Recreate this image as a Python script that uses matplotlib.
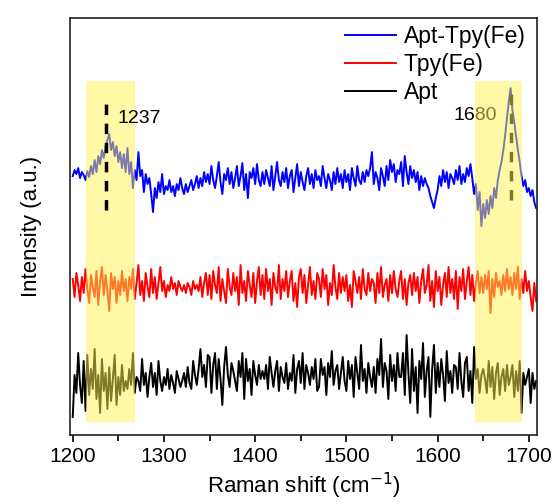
import numpy as np
import matplotlib
matplotlib.use("Agg")
import matplotlib.pyplot as plt
from matplotlib.ticker import MultipleLocator

plt.rcParams['font.family'] = ['Liberation Sans', 'DejaVu Sans']

# Raman shift axis, 2 cm-1 step
shift = np.arange(1200, 1710, 2)

# spectra (a.u., relative to each trace's own baseline)
apt_tpy_fe = [4, 10, 6, 12, 2, 8, 5, 0, 9, 3, 14, 6, 20, 8, 24,
              16, 30, 22, 34, 40, 46, 30, 38, 24, 34, 18, 28, 12, 26, 8,
              32, 6, 18, -8, 10, 0, 28, 4, 10, -12, 6, -4, 2, -14, -32,
              -8, -18, -2, -12, 6, -14, -6, -10, 0, -12, -6, -16, -4, -10, 2,
              -8, -14, -4, -12, -6, 0, -10, -4, 4, -8, 2, -6, 8, -2, 6,
              -4, 14, 0, -8, 4, 18, -2, -14, 6, 0, 12, -4, 8, -8, 2,
              14, -6, 4, 17, -10, 6, -18, 8, 2, 12, -4, 16, 0, -6, 8,
              -4, 10, 2, -6, 14, -10, 4, 18, 0, -6, 8, -2, 12, -8, 4,
              10, -12, 2, 16, -6, 8, -2, -10, 4, 12, -4, 6, -8, 10, 0,
              4, -6, 14, 2, -8, 6, 0, -10, 8, -4, 12, -2, 6, -8, 10,
              -2, 6, -10, 12, 2, -6, 14, 0, -4, 8, -2, 10, 4, 12, 28,
              -4, 8, 2, -10, 12, 4, -6, 14, 0, 20, 8, 16, -2, 10, 6,
              18, -6, 24, 8, -4, 14, 2, 10, -2, 8, -10, 4, -6, 2, -4,
              -8, -16, -22, -28, -18, -10, 4, -6, 10, -2, 8, -8, 6, 2, -4,
              10, 0, 14, -4, 6, -2, 12, 4, 16, 2, -14, -4, -30, -12, -46,
              -24, -38, -20, -34, -16, -28, -8, -18, 0, 10, 18, 30, 44, 62, 78,
              92, 70, 58, 44, 30, 18, 4, -6, 0, -12, -8, -16, -10, -22, -28]

tpy_fe = [8, -10, 14, 2, -14, 10, -6, 18, -2, -16, 12, 0, -10, 16, -18,
          6, 20, -8, 12, -4, -24, 14, -2, 10, -16, 6, -8, 16, -4, 8,
          -14, 10, -2, 18, -12, 4, 22, -8, 6, -14, 14, 0, -10, 18, -6,
          10, -12, 4, 20, -4, 6, -10, 2, -4, 10, -2, 4, -8, 6, 0,
          -4, 2, -6, 4, 0, -8, 6, -2, 2, -4, 10, -10, 4, 14, -8,
          12, -12, 16, 2, -6, 20, -14, 8, -4, -16, 18, 0, -8, 14, -4,
          10, -18, 22, -6, 6, -14, 16, 2, -10, 14, -16, 6, 20, -8, 12,
          -12, 18, -4, 8, -18, 14, 0, -6, 22, -12, 8, -4, 16, -10, 6,
          16, -14, 4, -20, 10, 18, -6, 12, -16, 2, 20, -8, 6, -12, 14,
          8, -10, 18, -2, 12, -18, 4, -8, 22, 0, -12, 14, -6, 10, -4,
          12, -14, 2, -20, 16, 6, -6, 10, -12, 18, -2, -8, 14, -4, 8,
          4, -16, 14, -6, 20, -10, 2, 8, -14, 12, -6, 16, -2, -10, 6,
          16, -12, 8, -18, 4, 12, -8, 14, -4, 10, -16, 6, 18, -6, 2,
          22, -14, 6, -20, 16, -4, 10, -18, 2, 14, -10, 20, -6, 8, -12,
          16, -22, 10, -4, 18, -12, 6, 20, -8, 12, -14, 4, 16, -6, 10,
          -6, 12, -2, 16, -26, 8, -10, 14, 0, 6, -8, 12, -4, 18, -2,
          10, -8, 14, -2, 20, -12, 8, -6, 16, -4, 6, -10, -24, 4, -14]

apt = [-34, 8, -10, 30, -2, -20, 22, -28, 28, -12, 14, -6, 34, -16, 8,
       -30, 24, -8, 10, -26, 16, -18, 4, 28, -22, 6, -12, 18, -8, 2,
       -6, 14, -2, 30, -10, 6, 2, -8, 24, -2, 10, -14, 6, 20, -4,
       10, -12, 22, 2, -8, 6, -2, 14, -6, 8, 0, -10, 12, 4, -4,
       2, 10, -4, 16, 0, -6, 22, 8, -2, 14, 34, 6, 18, -4, 28,
       26, -10, 18, 30, -6, 24, 4, -22, 16, 36, 8, -4, 20, 12, 2,
       -8, 22, 6, 30, -16, 24, 2, 14, -12, 22, 8, -2, 18, 4, 12,
       4, 18, -6, 26, 10, -4, 12, 22, -8, 16, 6, 0, 20, -6, 10,
       2, 28, -10, 14, 22, 0, 30, -6, 18, 10, -2, 16, 4, 24, -8,
       -4, 24, 8, 16, -12, 20, 6, 32, -2, 12, 18, -6, 10, 26, 2,
       -8, 22, 4, 18, -14, 26, 10, -6, 38, 2, 14, -10, 20, 6, -4,
       16, -10, 24, 8, 44, -4, 20, 12, -16, 28, 2, 18, -8, 30, 6,
       6, 30, -12, 48, 10, -20, 34, -8, 16, -30, 22, 4, 40, -14, 12,
       26, -34, 14, 38, -10, 20, -4, 24, 8, -18, 32, 0, 12, -10, 18,
       16, -6, 30, 2, -14, 20, 26, -8, 12, -20, 36, 4, 14, -10, 8,
       14, 4, -10, 22, -4, 16, -16, 10, 20, -12, 6, 14, -8, 18, -2,
       6, 18, -14, 12, -8, 22, -30, 10, -2, 6, 14, -20, 10, -6, 2]

labels = ['Apt-Tpy(Fe)', 'Tpy(Fe)', 'Apt']
offsets = [255, 148, 52]     # stacking offsets
colors = ['#0000ff', '#ff0000', '#000000']
peaks = [1237, 1680]
bands = [(1215, 1268), (1641, 1692)]

fig = plt.figure(figsize=(5.6, 5.04), dpi=100)
ax = fig.add_axes([0.125, 0.137, 0.834, 0.827])

for y, off, c, lab in zip([apt_tpy_fe, tpy_fe, apt], offsets, colors, labels):
    ax.plot(shift, np.array(y) + off, color=c, lw=1.4, label=lab, zorder=2)

# highlighted regions (drawn over the traces)
for b in bands:
    ax.axvspan(*b, ymin=0.03, ymax=0.85, color='#fff550', alpha=0.5, lw=0, zorder=3)

# peak markers
ax.vlines(peaks[0], 225, 335, colors='k', linestyles=(0, (3, 2.5)), lw=2.5, zorder=4)
ax.text(peaks[0] + 12, 317, str(peaks[0]), fontsize=14, va='center', zorder=4)
ax.vlines(peaks[1], 235, 347, colors='k', linestyles=(0, (3, 2.5)), lw=2.5, zorder=2.5)
ax.text(peaks[1] - 63, 320, str(peaks[1]), fontsize=14, va='center', zorder=2.5)

ax.set_xlim(1197, 1709)
ax.set_ylim(0, 417)
ax.xaxis.set_major_locator(MultipleLocator(100))
ax.xaxis.set_minor_locator(MultipleLocator(50))
ax.tick_params(axis='x', which='major', direction='out', length=5, width=1.2, labelsize=15, pad=4)
ax.tick_params(axis='x', which='minor', direction='out', length=4, width=1.2)
ax.set_yticks([])
for s in ax.spines.values():
    s.set_linewidth(1.2)
    s.set_color('#222222')

ax.set_xlabel('Raman shift (cm$^{-1}$)', fontsize=16, labelpad=3)
ax.set_ylabel('Intensity (a.u.)', fontsize=16, labelpad=20)

ax.legend(loc='upper right', bbox_to_anchor=(1.0, 1.01), frameon=False, fontsize=16.5,
          handlelength=2.2, handletextpad=0.35, labelspacing=0.2, borderaxespad=0.1)

fig.savefig('out.png', dpi=100)
